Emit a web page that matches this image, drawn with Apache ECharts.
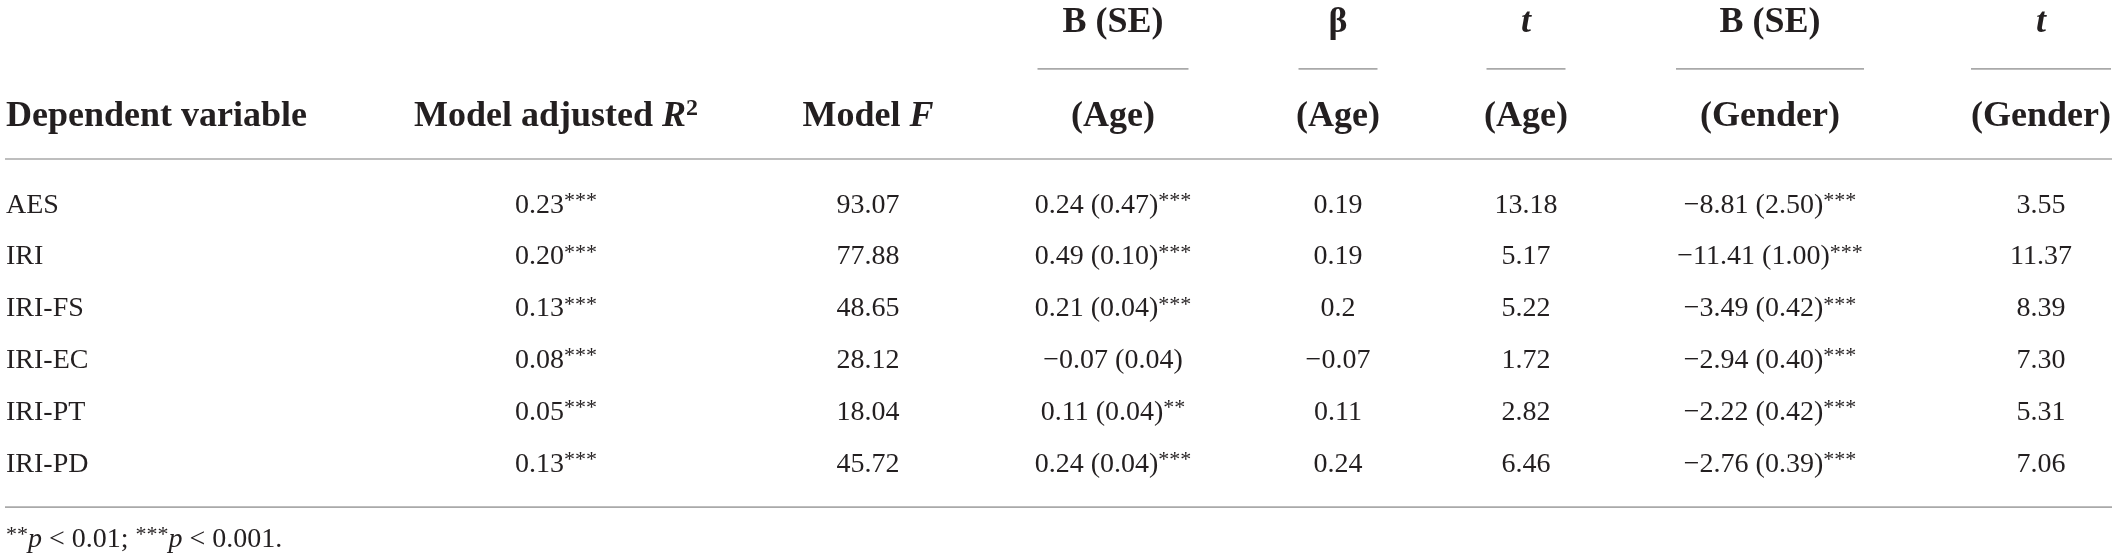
<!DOCTYPE html>
<html>
<head>
<meta charset="utf-8">
<script src="https://cdn.jsdelivr.net/npm/echarts@6/dist/echarts.min.js"></script>
<style>
  html, body { margin: 0; padding: 0; background: #fff; }
  #main { width: 2117px; height: 560px; }
</style>
</head>
<body>
<div id="main"></div>
<script>
// table data
var rowLabels = ['AES', 'IRI', 'IRI-FS', 'IRI-EC', 'IRI-PT', 'IRI-PD'];
var adjR2 = ['0.23', '0.20', '0.13', '0.08', '0.05', '0.13'];
var adjR2Sig = ['***', '***', '***', '***', '***', '***'];
var modelF = ['93.07', '77.88', '48.65', '28.12', '18.04', '45.72'];
var bAge = ['0.24', '0.49', '0.21', '\u22120.07', '0.11', '0.24'];
var seAge = ['0.47', '0.10', '0.04', '0.04', '0.04', '0.04'];
var sigAge = ['***', '***', '***', '', '**', '***'];
var betaAge = ['0.19', '0.19', '0.2', '\u22120.07', '0.11', '0.24'];
var tAge = ['13.18', '5.17', '5.22', '1.72', '2.82', '6.46'];
var bGender = ['\u22128.81', '\u221211.41', '\u22123.49', '\u22122.94', '\u22122.22', '\u22122.76'];
var seGender = ['2.50', '1.00', '0.42', '0.40', '0.42', '0.39'];
var sigGender = ['***', '***', '***', '***', '***', '***'];
var tGender = ['3.55', '11.37', '8.39', '7.30', '5.31', '7.06'];

// header texts (rich tags: i = italic, sq = superscript)
var groupHeaders = ['', '', '', 'B (SE)', '\u03b2', '{i|t}', 'B (SE)', '{i|t}'];
var columnHeaders = ['Dependent variable', 'Model adjusted {i|R}{sq|2}', 'Model {i|F}',
  '(Age)', '(Age)', '(Age)', '(Gender)', '(Gender)'];
var footnote = '{s|**}{i|p} < 0.01; {s|***}{i|p} < 0.001.';

// layout
var colX = [6, 556, 868, 1113, 1338, 1526, 1770, 2041];
var colAlign = ['left', 'center', 'center', 'center', 'center', 'center', 'center', 'center'];
var shortRule = [0, 0, 0, 151, 79, 79, 188, 140];
var yGroup = -3.53, yShort = -2.63, ySub = -1.70, yHeadRule = -0.89, yFootRule = 5.83, yNote = 6.45;
var ruleLeft = 5, ruleRight = 2112;

var FONT = '"Liberation Serif", "Times New Roman", serif';
var INK = '#231f20';
var RULE = '#a9a9a9';

function sup(s) { return s ? '{s|' + s + '}' : ''; }

// build body cells from the arrays
var cells = [];
rowLabels.forEach(function (lab, r) {
  var texts = [
    lab,
    adjR2[r] + sup(adjR2Sig[r]),
    modelF[r],
    bAge[r] + ' (' + seAge[r] + ')' + sup(sigAge[r]),
    betaAge[r],
    tAge[r],
    bGender[r] + ' (' + seGender[r] + ')' + sup(sigGender[r]),
    tGender[r]
  ];
  texts.forEach(function (t, c) {
    cells.push({ value: [colX[c], r], text: t, align: colAlign[c] });
  });
});

var headCells = [];
colX.forEach(function (x, c) {
  if (groupHeaders[c]) headCells.push({ value: [x, yGroup], text: groupHeaders[c], align: colAlign[c] });
  headCells.push({ value: [x, ySub], text: columnHeaders[c], align: colAlign[c] });
});

var rules = [
  { value: [ruleLeft, yHeadRule], w: ruleRight - ruleLeft },
  { value: [ruleLeft, yFootRule], w: ruleRight - ruleLeft }
];
colX.forEach(function (x, c) {
  if (shortRule[c]) rules.push({ value: [x - shortRule[c] / 2, yShort], w: shortRule[c] });
});

var richBody = {
  s: { fontFamily: FONT, fontSize: 22, fill: INK, verticalAlign: 'top', lineHeight: 22 },
  i: { fontFamily: FONT, fontSize: 28, fontStyle: 'italic', fill: INK }
};
var richHead = {
  i: { fontFamily: FONT, fontSize: 36, fontWeight: 'bold', fontStyle: 'italic', fill: INK },
  sq: { fontFamily: FONT, fontSize: 24, fontWeight: 'bold', fill: INK, verticalAlign: 'top', lineHeight: 22 }
};

var chart = echarts.init(document.getElementById('main'));

chart.setOption({
  animation: false,
  grid: { left: 0, right: 0, top: 0, bottom: 0 },
  xAxis: { type: 'value', min: 0, max: 2117, show: false },
  yAxis: { type: 'value', inverse: true, min: -3.96, max: 6.85, show: false },
  series: [
    {
      type: 'custom',
      data: rules,
      renderItem: function (params, api) {
        var d = rules[params.dataIndex];
        var p = api.coord(d.value);
        return {
          type: 'line',
          shape: { x1: p[0], y1: p[1], x2: p[0] + d.w, y2: p[1] },
          style: { stroke: RULE, lineWidth: 1.6 }
        };
      }
    },
    {
      type: 'custom',
      data: headCells,
      renderItem: function (params, api) {
        var d = headCells[params.dataIndex];
        var p = api.coord(d.value);
        return {
          type: 'text',
          x: p[0], y: p[1],
          style: {
            text: d.text, align: d.align, verticalAlign: 'middle',
            fontFamily: FONT, fontSize: 36, fontWeight: 'bold', fill: INK,
            lineHeight: 40, rich: richHead
          }
        };
      }
    },
    {
      type: 'custom',
      data: cells,
      renderItem: function (params, api) {
        var d = cells[params.dataIndex];
        var p = api.coord(d.value);
        return {
          type: 'text',
          x: p[0], y: p[1],
          style: {
            text: d.text, align: d.align, verticalAlign: 'middle',
            fontFamily: FONT, fontSize: 28, fill: INK,
            lineHeight: 30, rich: richBody
          }
        };
      }
    },
    {
      type: 'custom',
      data: [[colX[0], yNote]],
      renderItem: function (params, api) {
        var p = api.coord([api.value(0), api.value(1)]);
        return {
          type: 'text',
          x: p[0], y: p[1],
          style: {
            text: footnote, align: 'left', verticalAlign: 'middle',
            fontFamily: FONT, fontSize: 28, fill: INK,
            lineHeight: 30, rich: richBody
          }
        };
      }
    }
  ]
});
</script>
</body>
</html>
